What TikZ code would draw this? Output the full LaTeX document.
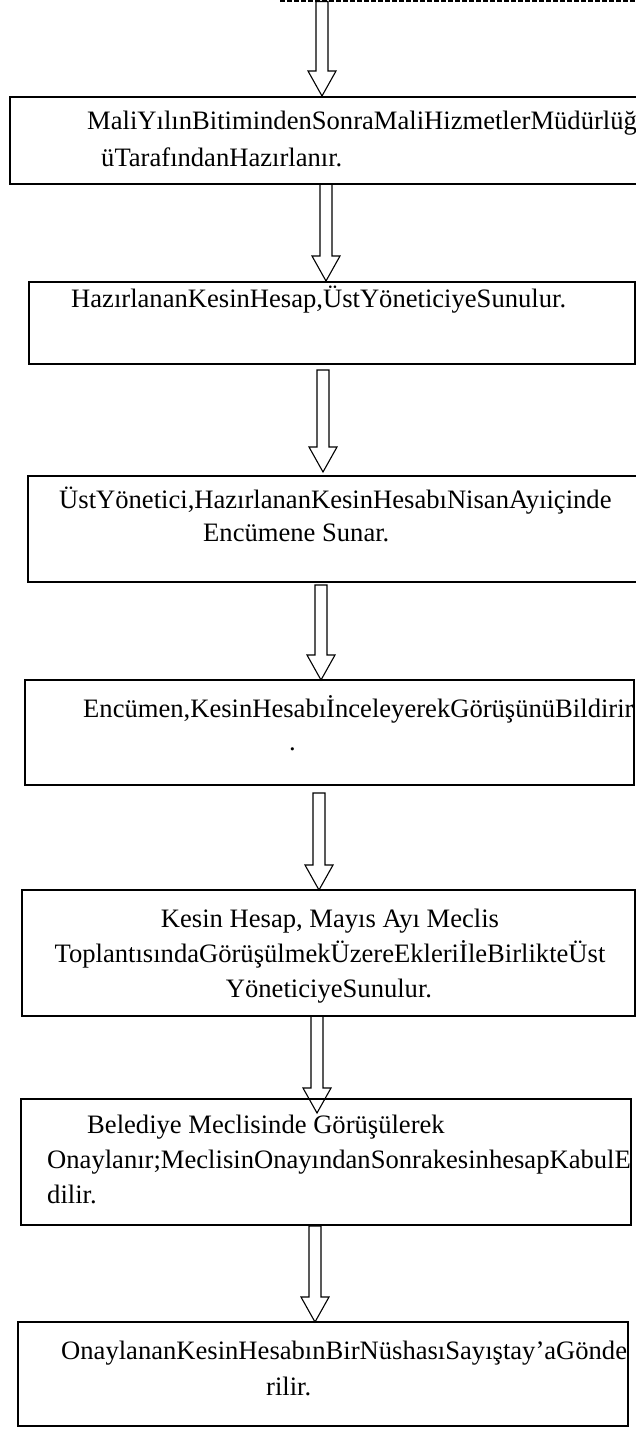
\documentclass[tikz,border=0pt]{standalone}
\usepackage{fontspec}
\setmainfont{Liberation Serif}
\usetikzlibrary{calc}
\begin{document}
\begin{tikzpicture}[x=1pt,y=-1pt,
  box/.style={draw, line width=1.6pt, rectangle, inner sep=0pt, outer sep=0pt, anchor=north west},
  txt/.style={font=\fontsize{26.6}{30}\selectfont, inner sep=0pt, anchor=base west},
  ctxt/.style={txt, anchor=base},
  dashline/.style={line width=2pt, dash pattern=on 5pt off 2pt},
  blockarrow/.style={draw, line width=1.1pt, line join=miter,
    to path={let \p1=(\tikztostart), \p2=(\tikztotarget) in
      ({\x1-6pt},\y1) -- ({\x1-6pt},{\y2+25pt}) -- ({\x1-14pt},{\y2+25pt}) -- (\x1,\y2)
      -- ({\x1+14pt},{\y2+25pt}) -- ({\x1+6pt},{\y2+25pt}) -- ({\x1+6pt},\y1) -- cycle}},
]
\useasboundingbox (0,0) rectangle (636,1431);
\fill[white] (0,0) rectangle (636,1431);
\clip (0,0) rectangle (636,1431);

% dashed edge at the top
\coordinate (dl) at (280,1.5);
\coordinate (dr) at (640,1.5);
\draw[dashline] (dl) -- (dr);

% boxes
\node[box, minimum width=640pt, minimum height=87pt]  (B1) at (10,97) {};
\node[box, minimum width=606pt, minimum height=82pt]  (B2) at (29,282) {};
\node[box, minimum width=612pt, minimum height=106pt] (B3) at (28,476) {};
\node[box, minimum width=609pt, minimum height=105pt] (B4) at (25,680) {};
\node[box, minimum width=613pt, minimum height=126pt] (B5) at (22,890) {};
\node[box, minimum width=610pt, minimum height=126pt] (B6) at (21,1099) {};
\node[box, minimum width=610pt, minimum height=104pt] (B7) at (18,1322) {};

% texts
\node[txt] (t1a) at (87,130) {MaliYılınBitimindenSonraMaliHizmetlerMüdürlüğ};
\node[txt] (t1b) at (101,167) {üTarafındanHazırlanır.};
\node[txt] (t2) at (71,307) {HazırlananKesinHesap,ÜstYöneticiyeSunulur.};
\node[txt] (t3a) at (59,508) {ÜstYönetici,HazırlananKesinHesabıNisanAyıiçinde};
\node[txt] (t3b) at (203,541) {Encümene Sunar.};
\node[txt] (t4a) at (83,717) {Encümen,KesinHesabıİnceleyerekGörüşünüBildirir};
\node[txt] (t4b) at (289,750) {.};
\node[ctxt] (t5a) at (330,927) {Kesin Hesap, Mayıs Ayı Meclis};
\node[ctxt] (t5b) at (330,962) {ToplantısındaGörüşülmekÜzereEkleriİleBirlikteÜst};
\node[ctxt] (t5c) at (329,997) {YöneticiyeSunulur.};
\node[txt] (t6a) at (87,1133) {Belediye Meclisinde Görüşülerek};
\node[txt] (t6b) at (47,1168) {Onaylanır;MeclisinOnayındanSonrakesinhesapKabulE};
\node[txt] (t6c) at (47,1203) {dilir.};
\node[txt] (t7a) at (61,1359) {OnaylananKesinHesabınBirNüshasıSayıştay’aGönde};
\node[txt] (t7b) at (266,1395) {rilir.};

% arrow end points
\coordinate (a0s) at (322,1.5);   \coordinate (a0e) at (322,96);
\coordinate (a1s) at (326,184);   \coordinate (a1e) at (326,281);
\coordinate (a2s) at (323,370);   \coordinate (a2e) at (323,472);
\coordinate (a3s) at (321,585);   \coordinate (a3e) at (321,680);
\coordinate (a4s) at (319,793);   \coordinate (a4e) at (319,890);
\coordinate (a5s) at (317,1016);  \coordinate (a5e) at (317,1113);
\coordinate (a6s) at (315,1226);  \coordinate (a6e) at (315,1322);

\draw[blockarrow] (a0s) to (a0e);
\draw[blockarrow] (a1s) to (a1e);
\draw[blockarrow] (a2s) to (a2e);
\draw[blockarrow] (a3s) to (a3e);
\draw[blockarrow] (a4s) to (a4e);
\draw[blockarrow] (a5s) to (a5e);
\draw[blockarrow] (a6s) to (a6e);
\end{tikzpicture}
\end{document}
